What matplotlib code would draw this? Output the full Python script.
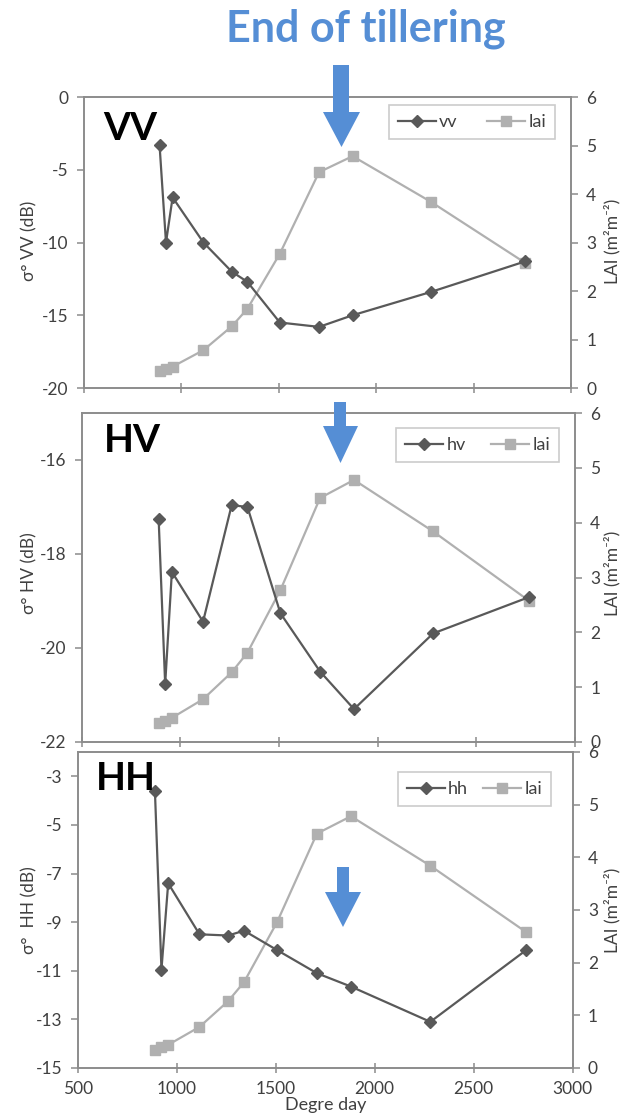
import numpy as np
import matplotlib
matplotlib.use("Agg")
import matplotlib.pyplot as plt
from matplotlib.patches import Polygon

plt.rcParams['font.family'] = ['Lato', 'DejaVu Sans']
plt.rcParams['axes.unicode_minus'] = False

# degree days of each acquisition
deg = [890, 923, 957, 1115, 1260, 1340, 1507, 1708, 1880, 2281, 2765]
lai = [0.35, 0.39, 0.44, 0.78, 1.27, 1.63, 2.77, 4.45, 4.78, 3.84, 2.58]
vv = [-3.3, -10.0, -6.9, -10.0, -12.0, -12.7, -15.5, -15.8, -15.0, -13.4, -11.3]
hv = [-17.26, -20.77, -18.38, -19.44, -16.96, -17.0, -19.26, -20.5, -21.3, -19.69, -18.92]
hh = [-3.6, -10.95, -7.4, -9.5, -9.55, -9.35, -10.15, -11.1, -11.65, -13.1, -10.15]

W, H = 625, 1118
dark = '#595959'
light = '#b0b0b0'
spine_c = '#8c8c8c'
txt_c = '#404040'
blue = '#558ed5'

fig = plt.figure(figsize=(W / 100, H / 100), dpi=100)


def px(x0, y0, x1, y1):
    # pixel box (top-left origin) -> figure fraction rect
    return [x0 / W, 1 - y1 / H, (x1 - x0) / W, (y1 - y0) / H]


panels = [
    # name, values, box, ylim, yticks, legend anchor, legend column gap, show x labels
    ('VV', vv, px(83.5, 97, 571, 388), (-20, 0), np.arange(-20, 1, 5), (0.967, 0.972), 1.6, False),
    ('HV', hv, px(81.7, 413, 575, 742), (-22, -15), np.arange(-22, -15, 2), (0.968, 0.954), 1.4, False),
    ('HH', hh, px(77.7, 752, 572.7, 1068), (-15, -2), np.arange(-15, -2, 2), (0.956, 0.937), 0.8, True),
]

tag_pos = {'VV': (103, 140), 'HV': (104, 452), 'HH': (96, 790)}
ylab_y = {'VV': 241, 'HV': 573, 'HH': 910}

for name, vals, rect, ylim, yt, anchor, gap, xlab in panels:
    ax = fig.add_axes(rect)
    ax2 = ax.twinx()
    l1, = ax.plot(deg, vals, color=dark, lw=1.6, marker='D', ms=6.5,
                  mfc=dark, mec=dark, label=name.lower(), zorder=3)
    l2, = ax2.plot(deg, lai, color=light, lw=1.6, marker='s', ms=7.5,
                   mfc=light, mec=light, label='lai')
    ax.set_zorder(ax2.get_zorder() + 1)
    ax.patch.set_visible(False)

    ax.set_xlim(500, 3000)
    ax.set_xticks(np.arange(500, 3001, 500))
    ax.set_ylim(*ylim)
    ax.set_yticks(yt)
    ax2.set_ylim(0, 6)
    ax2.set_yticks(range(7))

    for a in (ax, ax2):
        for s in a.spines.values():
            s.set_color(spine_c)
            s.set_linewidth(1.2)
        a.tick_params(colors=spine_c, labelcolor=txt_c, labelsize=12.5,
                      direction='inout', length=7, width=1.1)
    ax.tick_params(axis='y', direction='out', length=5, pad=6)
    ax2.tick_params(axis='y', direction='out', length=5, pad=6)
    if not xlab:
        ax.tick_params(axis='x', labelbottom=False)
    else:
        ax.tick_params(axis='x', pad=6)
        ax.set_xlabel('Degre day', fontsize=13, color=txt_c, labelpad=0)

    leg = ax.legend(handles=[l1, l2], loc='upper right', bbox_to_anchor=anchor,
                    ncol=2, fontsize=13, frameon=True, fancybox=False,
                    borderaxespad=0, handlelength=2.1, columnspacing=gap,
                    handletextpad=0.2, borderpad=0.5)
    leg.get_frame().set_edgecolor('#bfbfbf')
    leg.get_frame().set_linewidth(1.2)
    for t in leg.get_texts():
        t.set_color(txt_c)

    tx, ty = tag_pos[name]
    fig.text(tx / W, 1 - ty / H, name, fontsize=28, fontweight='bold',
             color='black', va='baseline', ha='left')

    yl = ylab_y[name]
    sep = '  ' if name == 'HH' else ' '
    fig.text(29 / W, 1 - yl / H, 'σ°' + sep + name + ' (dB)', rotation=90,
             ha='center', va='center', fontsize=12.5, color=txt_c)
    fig.text(612 / W, 1 - yl / H, 'LAI (m²m⁻²)', rotation=90,
             ha='center', va='center', fontsize=12.5, color=txt_c)

fig.text(366 / W, 1 - 29 / H, 'End of tillering', fontsize=31,
         fontweight='bold', color=blue, ha='center', va='center')

# down arrows marking the end of tillering
arrows = [
    (333, 349, 65, 112, 323, 360, 147),
    (334, 346, 402, 426, 323, 358, 463),
    (337, 349, 867, 892, 325, 361, 927),
]
for sx0, sx1, sy0, sy1, hx0, hx1, tip in arrows:
    cx = (hx0 + hx1) / 2
    pts = [(sx0, sy0), (sx1, sy0), (sx1, sy1), (hx1, sy1), (cx, tip),
           (hx0, sy1), (sx0, sy1)]
    pts = [(x / W, 1 - y / H) for x, y in pts]
    fig.patches.append(Polygon(pts, closed=True, transform=fig.transFigure,
                               facecolor=blue, edgecolor='none', zorder=5))

fig.savefig('out.png', dpi=100)
